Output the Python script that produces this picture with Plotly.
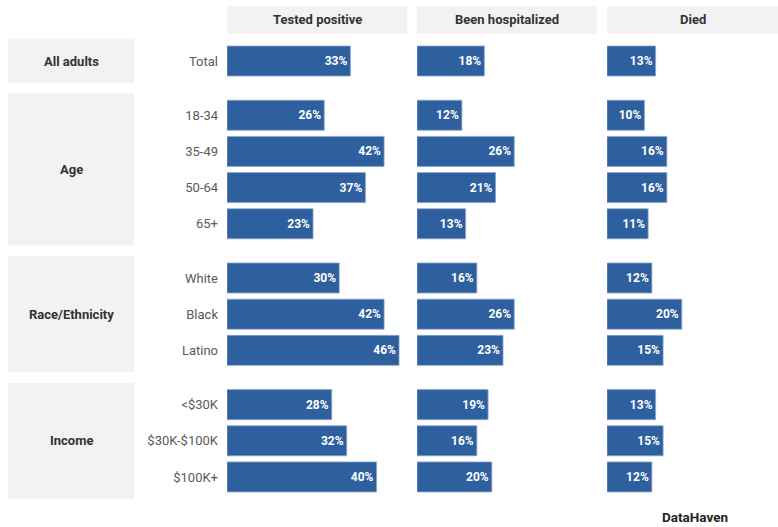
import plotly.graph_objects as go

# ---- data ----
categories = ["Total", "18-34", "35-49", "50-64", "65+", "White", "Black", "Latino",
              "<$30K", "$30K-$100K", "$100K+"]
groups = ["All adults", "Age", "Race/Ethnicity", "Income"]
group_sizes = [1, 4, 3, 3]
panels = ["Tested positive", "Been hospitalized", "Died"]
tested_positive = [33, 26, 42, 37, 23, 30, 42, 46, 28, 32, 40]
hospitalized = [18, 12, 26, 21, 13, 16, 26, 23, 19, 16, 20]
died = [13, 10, 16, 16, 11, 12, 20, 15, 13, 15, 12]
series = [tested_positive, hospitalized, died]

# ---- layout geometry ----
W, H = 778, 527
BAR = "#2e5f9f"
GREY = "#f2f2f2"
FONT = "Roboto"
GAP = 0.5  # extra space between groups (in row units)

# y positions of rows
ypos = []
group_spans = []
pos = 0.0
for gi, n in enumerate(group_sizes):
    start = pos
    for k in range(n):
        ypos.append(pos)
        pos += 1
    group_spans.append((start, pos - 1))
    pos += GAP

px_per_unit = 36.17
top_px = 61
y_range = [(H - top_px) / px_per_unit, -top_px / px_per_unit]

px_per_pct = 3.74
panel_px = [(227, 407), (417, 597), (607, 778)]

fig = go.Figure()
axis_names = ["x", "x2", "x3"]
for i, (vals, name) in enumerate(zip(series, panels)):
    fig.add_trace(go.Bar(
        x=vals, y=ypos, orientation="h",
        xaxis=axis_names[i], yaxis="y",
        width=0.83,
        marker=dict(color=BAR, line=dict(color="#8aa6cb", width=0.8)),
        text=[f"{v}%" for v in vals],
        textposition="inside", insidetextanchor="end",
        textfont=dict(family=FONT, size=12, color="white", weight="bold"),
        constraintext="none",
        hoverinfo="skip", showlegend=False, cliponaxis=False,
    ))

layout_axes = {}
for i, (a, b) in enumerate(panel_px):
    key = "xaxis" if i == 0 else f"xaxis{i+1}"
    layout_axes[key] = dict(
        domain=[a / W, b / W],
        range=[0, (b - a) / px_per_pct],
        showgrid=False, zeroline=False, showticklabels=False, showline=False,
        anchor="y", fixedrange=True,
    )

fig.update_layout(
    width=W, height=H,
    margin=dict(l=0, r=0, t=0, b=0),
    paper_bgcolor="white", plot_bgcolor="white",
    bargap=0,
    yaxis=dict(
        domain=[0, 1], range=y_range, anchor="x",
        tickmode="array", tickvals=ypos, ticktext=categories,
        tickfont=dict(family=FONT, size=13, color="#5a5a5a"),
        ticks="", ticklabelstandoff=8, automargin=False,
        showgrid=False, zeroline=False, showline=False, fixedrange=True,
    ),
    **layout_axes,
)

shapes = []
annotations = []
# header boxes
for i, name in enumerate(panels):
    xr = axis_names[i]
    shapes.append(dict(type="rect", xref=f"{xr} domain", yref="y",
                       x0=0, x1=1, y0=-1.52, y1=-0.75,
                       fillcolor=GREY, line=dict(width=0), layer="below"))
    annotations.append(dict(xref=f"{xr} domain", yref="y", x=0.5, y=-1.135,
                            xanchor="center", yanchor="middle",
                            text=f"<b>{name}</b>", showarrow=False,
                            font=dict(family=FONT, size=13, color="#333333")))
# group boxes
for g, (s, e) in zip(groups, group_spans):
    shapes.append(dict(type="rect", xref="paper", yref="y",
                       x0=8 / W, x1=134 / W, y0=s - 0.6, y1=e + 0.6,
                       fillcolor=GREY, line=dict(width=0), layer="below"))
    annotations.append(dict(xref="paper", yref="y", x=71 / W, y=(s + e) / 2,
                            xanchor="center", yanchor="middle",
                            text=f"<b>{g}</b>", showarrow=False,
                            font=dict(family=FONT, size=13, color="#333333")))
# source
annotations.append(dict(xref="paper", yref="paper", x=695 / W, y=1 - 517 / H,
                        xanchor="center", yanchor="middle",
                        text="<b>DataHaven</b>", showarrow=False,
                        font=dict(family=FONT, size=13.5, color="#222222")))

fig.update_layout(shapes=shapes, annotations=annotations)
fig.write_html("out.html",
               config={"displayModeBar": False, "staticPlot": True},
               post_script="document.body.style.margin='0';document.body.style.overflow='hidden';")
